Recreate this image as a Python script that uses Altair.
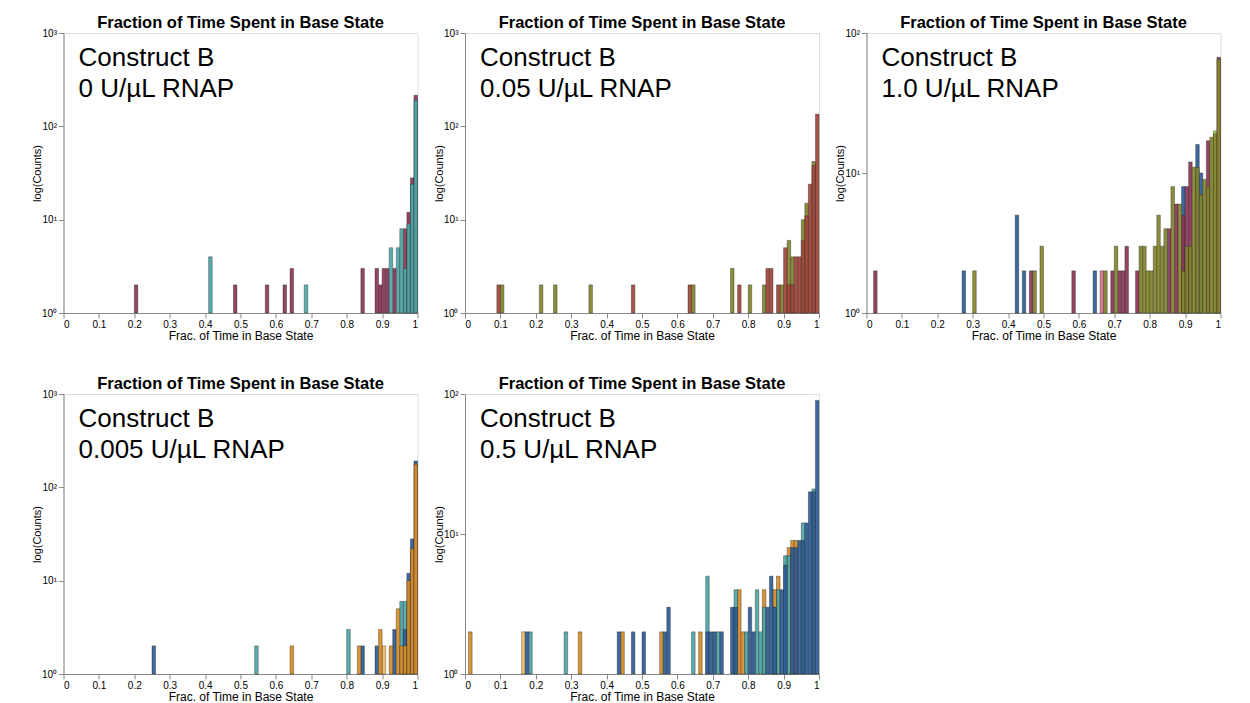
import altair as alt
import pandas as pd

# ---------------- data (bin index k = bin [k/100, (k+1)/100]) ----------------
panel_title = "Fraction of Time Spent in Base State"
construct = "Construct B"
rnap_labels = ["0 U/µL RNAP", "0.05 U/µL RNAP", "1.0 U/µL RNAP", "0.005 U/µL RNAP", "0.5 U/µL RNAP"]
y_max = [1000, 1000, 100, 1000, 100]

# Panel 1: 0 U/uL
p1_maroon_bins = [20, 48, 57, 62, 64, 84, 88, 89, 90, 91, 93, 96, 97, 98, 99]
p1_maroon_counts = [2, 2, 2, 2, 3, 3, 3, 2, 3, 3, 3, 8, 12, 28, 215]
p1_teal_bins = [41, 68, 92, 94, 95, 96, 97, 98, 99]
p1_teal_counts = [4, 2, 5, 5, 8, 3, 9, 24, 190]

# Panel 2: 0.05 U/uL
p2_olive_bins = [10, 21, 25, 35, 64, 75, 80, 84, 89, 91, 92, 95, 96, 98]
p2_olive_counts = [2, 2, 2, 2, 2, 3, 2, 2, 2, 6, 4, 10, 15, 42]
p2_red_bins = [9, 47, 63, 77, 85, 86, 88, 90, 91, 92, 93, 94, 95, 96, 97, 98, 99]
p2_red_counts = [2, 2, 2, 2, 3, 3, 2, 5, 2, 2, 4, 4, 6, 11, 24, 38, 135]

# Panel 3: 1.0 U/uL
p3_blue_bins = [27, 42, 44, 64, 89, 93, 94]
p3_blue_counts = [2, 5, 2, 2, 8, 16, 10]
p3_maroon_bins = [2, 46, 58, 69, 71, 72, 73, 76, 85, 87, 89, 90, 91, 96, 99]
p3_maroon_counts = [2, 2, 2, 2, 2, 2, 3, 2, 4, 6, 5, 8, 12, 17, 67]
p3_pink_bins = [66]
p3_pink_counts = [2]
p3_lgreen_bins = [98]
p3_lgreen_counts = [20]
p3_olive_bins = [30, 47, 49, 67, 70, 77, 78, 79, 80, 81, 82, 83, 84, 86, 88, 89, 90, 91,
                 92, 93, 94, 95, 96, 97, 98, 99]
p3_olive_counts = [2, 2, 3, 2, 3, 3, 3, 2, 2, 3, 5, 3, 4, 8, 6, 2, 3, 3,
                   11, 11, 7, 9, 8, 18, 19, 65]

# Panel 4: 0.005 U/uL
p4_teal_bins = [54, 80, 95, 96]
p4_teal_counts = [2, 3, 6, 6]
p4_blue_bins = [25, 84, 88, 93, 96, 97, 98, 99]
p4_blue_counts = [2, 2, 2, 3, 3, 12, 28, 192]
p4_lyellow_bins = [90]
p4_lyellow_counts = [2]
p4_orange_bins = [64, 83, 89, 92, 94, 95, 96, 97, 98, 99]
p4_orange_counts = [2, 2, 3, 2, 5, 2, 2, 10, 22, 177]

# Panel 5: 0.5 U/uL
p5_lyellow_bins = [16]
p5_lyellow_counts = [2]
p5_orange_bins = [1, 32, 44, 55, 66, 77, 78, 84, 87, 88, 91, 92, 93]
p5_orange_counts = [2, 2, 2, 2, 2, 4, 2, 4, 4, 5, 8, 9, 9]
p5_teal_bins = [18, 28, 64, 68, 71, 76, 79, 82, 83, 84, 87, 88, 90, 91, 95, 98]
p5_teal_counts = [2, 2, 2, 5, 2, 4, 2, 4, 2, 3, 3, 4, 7, 7, 12, 21]
p5_blue_bins = [17, 43, 47, 50, 56, 57, 68, 69, 70, 72, 75, 76, 80, 81, 85, 86, 87, 89,
                90, 92, 93, 94, 95, 96, 97, 98, 99]
p5_blue_counts = [2, 2, 2, 2, 2, 3, 2, 2, 2, 2, 3, 3, 3, 2, 3, 5, 3, 4,
                  6, 8, 8, 9, 9, 12, 20, 20, 90]

# colours
MAROON = "#8C3658"
TEAL = "#4CA7A8"
OLIVE = "#84852C"
RED = "#A2463A"
BLUE = "#2C5C96"
ORANGE = "#D98C26"
LYELLOW = "#F4C064"
PINK = "#DB6F8A"
LGREEN = "#9BCB55"

# series in drawing order per panel
panels = [
    [("maroon", MAROON, p1_maroon_bins, p1_maroon_counts),
     ("teal", TEAL, p1_teal_bins, p1_teal_counts)],
    [("olive", OLIVE, p2_olive_bins, p2_olive_counts),
     ("red", RED, p2_red_bins, p2_red_counts)],
    [("blue", BLUE, p3_blue_bins, p3_blue_counts),
     ("maroon", MAROON, p3_maroon_bins, p3_maroon_counts),
     ("pink", PINK, p3_pink_bins, p3_pink_counts),
     ("lgreen", LGREEN, p3_lgreen_bins, p3_lgreen_counts),
     ("olive", OLIVE, p3_olive_bins, p3_olive_counts)],
    [("teal", TEAL, p4_teal_bins, p4_teal_counts),
     ("blue", BLUE, p4_blue_bins, p4_blue_counts),
     ("lyellow", LYELLOW, p4_lyellow_bins, p4_lyellow_counts),
     ("orange", ORANGE, p4_orange_bins, p4_orange_counts)],
    [("lyellow", LYELLOW, p5_lyellow_bins, p5_lyellow_counts),
     ("orange", ORANGE, p5_orange_bins, p5_orange_counts),
     ("teal", TEAL, p5_teal_bins, p5_teal_counts),
     ("blue", BLUE, p5_blue_bins, p5_blue_counts)],
]

W, H = 354, 280
FONT = "Liberation Sans"
x_ticks = [round(i / 10, 1) for i in range(11)]


def make_panel(i):
    rows = []
    for order, (name, color, bins, counts) in enumerate(panels[i]):
        for b, c in zip(bins, counts):
            rows.append({"series": f"p{i + 1}-{name}", "ord": order,
                         "x0": b / 100, "x1": (b + 1) / 100, "count": c})
    df = pd.DataFrame(rows)
    names = [f"p{i + 1}-{s[0]}" for s in panels[i]]
    colors = [s[1] for s in panels[i]]
    ymax = y_max[i]
    yvals = [v for v in [1, 10, 100, 1000] if v <= ymax]

    bars = alt.Chart(df).mark_bar(
        stroke="#2a2a2a", strokeWidth=0.5, strokeOpacity=0.8, fillOpacity=0.93
    ).encode(
        x=alt.X("x0:Q", scale=alt.Scale(domain=[0, 1], nice=False, zero=False),
                axis=alt.Axis(values=x_ticks, format="~g", title="Frac. of Time in Base State",
                              grid=False, titleFontWeight="normal", titleFontSize=12,
                              titlePadding=1, labelPadding=1)),
        x2="x1:Q",
        y=alt.Y("count:Q", scale=alt.Scale(type="log", domain=[1, ymax], nice=False),
                axis=alt.Axis(values=yvals, title="log(Counts)", grid=False,
                              titleFontWeight="normal", titleFontSize=11,
                              titleX=-21, titleY=H / 2,
                              labelExpr="'10' + (datum.value == 1 ? '\u2070' : datum.value == 10 ? '\u00b9' : datum.value == 100 ? '\u00b2' : '\u00b3')")),
        y2=alt.value(H),
        color=alt.Color("series:N", scale=alt.Scale(domain=names, range=colors), legend=None),
        order=alt.Order("ord:Q"),
    )

    txt_df = pd.DataFrame({"label": [construct + "\n" + rnap_labels[i]]})
    text = alt.Chart(txt_df).mark_text(
        align="left", baseline="alphabetic", fontSize=26, lineHeight=31,
        lineBreak="\n", font=FONT, color="#000000"
    ).encode(x=alt.value(15), y=alt.value(33), text="label:N")

    return alt.layer(bars, text).properties(
        width=W, height=H,
        title=alt.TitleParams(panel_title, fontSize=16.5, fontWeight="bold", font=FONT,
                              color="#000000", offset=-3, anchor="middle"),
    )


chart = alt.concat(*[make_panel(i) for i in range(5)], columns=3, spacing={"row": 81, "column": 47.5},
                   bounds="flush").resolve_scale(
    color="independent"
).properties(
    padding={"left": 22.5, "top": 6, "right": 5, "bottom": 5}
).configure_view(
    stroke="#9a9a9a", strokeWidth=1
).configure_axis(
    labelFont=FONT, titleFont=FONT, labelFontSize=8, labelColor="#555555",
    titleColor="#333333",
    tickColor="#8a8a8a", domainColor="#9a9a9a", tickSize=3, labelPadding=2,
).configure_axisY(
    labelFontSize=7
).configure(background="#ffffff")

chart.save("out.html", embed_options={"renderer": "svg", "actions": False})
